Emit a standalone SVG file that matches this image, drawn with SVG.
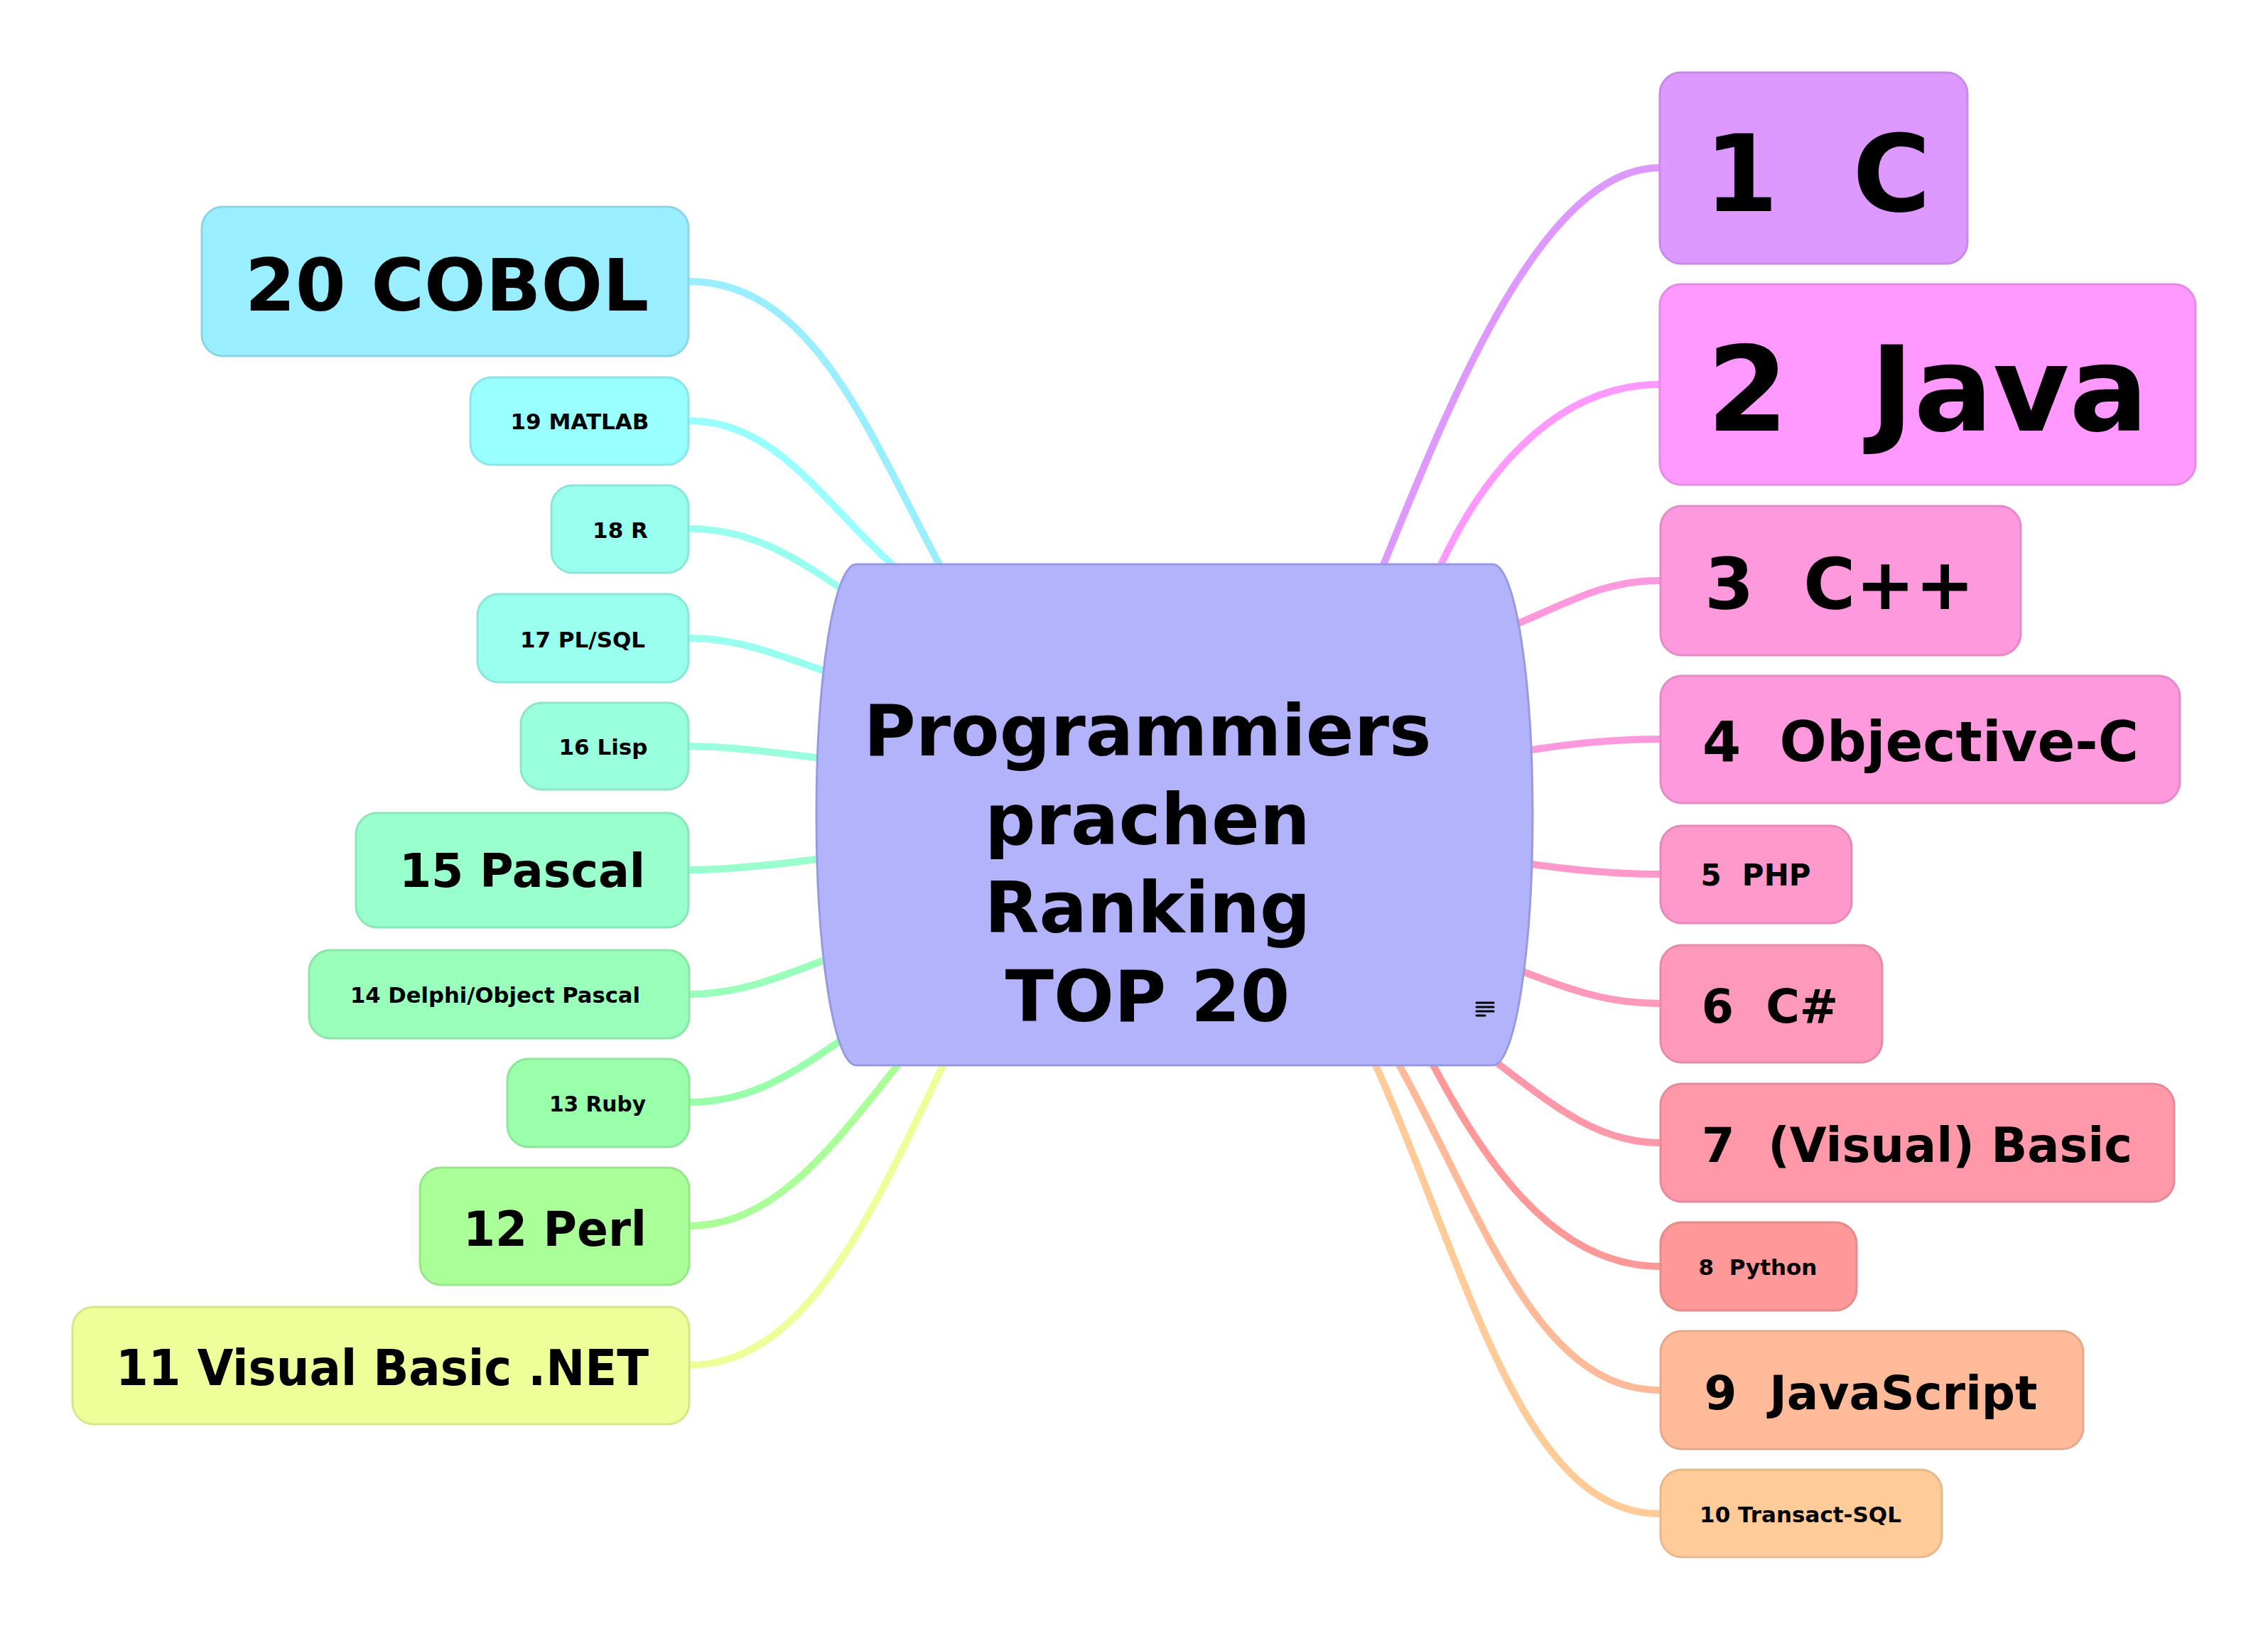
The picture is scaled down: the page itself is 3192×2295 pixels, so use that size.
<svg xmlns="http://www.w3.org/2000/svg" width="3192" height="2295" viewBox="0 0 3192 2295">
<style>
.con{fill:none;stroke-width:10;stroke-linecap:butt}
.box{stroke-width:3}
.v{font-family:"DejaVu Sans",Verdana,sans-serif;font-weight:bold;fill:#000;text-anchor:middle}
.t{font-family:"DejaVu Sans Condensed","DejaVu Sans",sans-serif;font-stretch:condensed;font-weight:bold;fill:#000;text-anchor:middle}
</style>
<rect width="3192" height="2295" fill="#ffffff"/>
<g id="connectors">
<path class="con" stroke="#99eeff" d="M969,396 C1149,396 1226,620 1336,820"/>
<path class="con" stroke="#99ffff" d="M969,592 C1099,592 1162,717 1277,813"/>
<path class="con" stroke="#99ffee" d="M969,744 C1059,744 1117,782 1208,845"/>
<path class="con" stroke="#99ffee" d="M969,898 C1040,898 1091,920 1185,953"/>
<path class="con" stroke="#99ffdd" d="M969,1050 C1030,1050 1100,1060 1180,1070"/>
<path class="con" stroke="#99ffcc" d="M969,1224 C1030,1224 1100,1216 1180,1205"/>
<path class="con" stroke="#99ffbb" d="M969,1399 C1040,1399 1093,1377 1186,1341"/>
<path class="con" stroke="#99ffaa" d="M969,1551 C1060,1551 1117,1510 1208,1447"/>
<path class="con" stroke="#aaff99" d="M969,1725 C1099,1725 1181,1599 1282,1476"/>
<path class="con" stroke="#eeff99" d="M969,1921 C1139,1921 1232,1697 1340,1472"/>
<path class="con" stroke="#dd99ff" d="M2336,236 C2166,236 2034,582 1936,822"/>
<path class="con" stroke="#ff99ff" d="M2336,541 C2186,541 2078,674 2016,822"/>
<path class="con" stroke="#ff99dd" d="M2336,817 C2250,817 2203,852 2110,888"/>
<path class="con" stroke="#ff99dd" d="M2336,1040 C2270,1040 2210,1046 2125,1060"/>
<path class="con" stroke="#ff99cc" d="M2336,1230 C2270,1230 2210,1224 2125,1212"/>
<path class="con" stroke="#ff99bb" d="M2336,1412 C2260,1412 2210,1393 2117,1357"/>
<path class="con" stroke="#ff99aa" d="M2336,1608 C2236,1608 2164,1536 2083,1478"/>
<path class="con" stroke="#ff9999" d="M2336,1782 C2186,1782 2086,1633 2003,1472"/>
<path class="con" stroke="#ffbb99" d="M2336,1956 C2156,1956 2080,1690 1955,1473"/>
<path class="con" stroke="#ffcc99" d="M2336,2130 C2136,2130 2063,1772 1924,1472"/>
</g>
<g id="center">
<path d="M1205,794 H2101 A56,352.5 0 0 1 2101,1499 H1205 A56,352.5 0 0 1 1205,794 Z" fill="#b3b3fc" stroke="#9999e0" stroke-width="3"/>
<text class="v" font-size="100" x="1615" y="1063">Programmiers</text>
<text class="v" font-size="100" x="1615" y="1188">prachen</text>
<text class="v" font-size="100" x="1615" y="1312">Ranking</text>
<text class="v" font-size="100" x="1615" y="1437">TOP 20</text>
<g stroke="#000" stroke-width="3" stroke-linecap="round">
<line x1="2078" y1="1411" x2="2102" y2="1411"/>
<line x1="2078" y1="1417" x2="2102" y2="1417"/>
<line x1="2078" y1="1423" x2="2102" y2="1423"/>
<line x1="2078" y1="1429" x2="2090" y2="1429"/>
</g>
</g>
<g id="n20"><rect class="box" x="284" y="291" width="685" height="210" rx="30" fill="#99eeff" stroke="#8ad6e6"/><text class="v" font-size="102" x="629" y="437">20 COBOL</text></g>
<g id="n19"><rect class="box" x="662" y="531" width="307" height="123" rx="30" fill="#99ffff" stroke="#8ae6e6"/><text class="v" font-size="31" x="816" y="604">19 MATLAB</text></g>
<g id="n18"><rect class="box" x="776" y="683" width="193" height="123" rx="30" fill="#99ffee" stroke="#8ae6d6"/><text class="v" font-size="31" x="873" y="757">18 R</text></g>
<g id="n17"><rect class="box" x="672" y="836" width="297" height="124" rx="30" fill="#99ffee" stroke="#8ae6d6"/><text class="v" font-size="31" x="820" y="911">17 PL/SQL</text></g>
<g id="n16"><rect class="box" x="733" y="989" width="236" height="122" rx="30" fill="#99ffdd" stroke="#8ae6c7"/><text class="v" font-size="31" x="849" y="1062">16 Lisp</text></g>
<g id="n15"><rect class="box" x="501" y="1144" width="468" height="161" rx="30" fill="#99ffcc" stroke="#8ae6b8"/><text class="v" font-size="65" x="735" y="1248">15 Pascal</text></g>
<g id="n14"><rect class="box" x="435" y="1337" width="535" height="124" rx="30" fill="#99ffbb" stroke="#8ae6a8"/><text class="t" font-size="31" x="697" y="1411" textLength="408" lengthAdjust="spacingAndGlyphs">14 Delphi/Object Pascal</text></g>
<g id="n13"><rect class="box" x="714" y="1490" width="256" height="124" rx="30" fill="#99ffaa" stroke="#8ae699"/><text class="t" font-size="30" x="841" y="1564" textLength="136" lengthAdjust="spacingAndGlyphs">13 Ruby</text></g>
<g id="n12"><rect class="box" x="591" y="1643" width="379" height="165" rx="30" fill="#aaff99" stroke="#99e68a"/><text class="t" font-size="68" x="781" y="1753" textLength="258" lengthAdjust="spacingAndGlyphs">12 Perl</text></g>
<g id="n11"><rect class="box" x="102" y="1839" width="868" height="165" rx="30" fill="#eeff99" stroke="#d6e68a"/><text class="t" font-size="70" x="538" y="1949" textLength="750" lengthAdjust="spacingAndGlyphs">11 Visual Basic .NET</text></g>
<g id="n1"><rect class="box" x="2336" y="102" width="433" height="269" rx="30" fill="#dd99ff" stroke="#c78ae6"/><text class="v" font-size="150" x="2558" y="297" xml:space="preserve">1  C</text></g>
<g id="n2"><rect class="box" x="2336" y="400" width="754" height="282" rx="30" fill="#ff99ff" stroke="#e68ae6"/><text class="v" font-size="165" x="2713" y="606" xml:space="preserve">2  Java</text></g>
<g id="n3"><rect class="box" x="2337" y="712" width="507" height="210" rx="30" fill="#ff99dd" stroke="#e68ac7"/><text class="v" font-size="100" x="2589" y="857" xml:space="preserve">3  C++</text></g>
<g id="n4"><rect class="box" x="2337" y="951" width="731" height="179" rx="30" fill="#ff99dd" stroke="#e68ac7"/><text class="v" font-size="78" x="2703" y="1071" xml:space="preserve">4  Objective-C</text></g>
<g id="n5"><rect class="box" x="2337" y="1162" width="269" height="137" rx="30" fill="#ff99cc" stroke="#e68ab8"/><text class="v" font-size="42" x="2471" y="1246" xml:space="preserve">5  PHP</text></g>
<g id="n6"><rect class="box" x="2337" y="1330" width="312" height="165" rx="30" fill="#ff99bb" stroke="#e68aa8"/><text class="v" font-size="65" x="2491" y="1439" xml:space="preserve">6  C#</text></g>
<g id="n7"><rect class="box" x="2337" y="1525" width="723" height="166" rx="30" fill="#ff99aa" stroke="#e68a99"/><text class="v" font-size="67" x="2698" y="1635" xml:space="preserve">7  (Visual) Basic</text></g>
<g id="n8"><rect class="box" x="2337" y="1720" width="276" height="124" rx="30" fill="#ff9999" stroke="#e68a8a"/><text class="v" font-size="31" x="2474" y="1794" xml:space="preserve">8  Python</text></g>
<g id="n9"><rect class="box" x="2337" y="1873" width="595" height="166" rx="30" fill="#ffbb99" stroke="#e6a88a"/><text class="v" font-size="66" x="2633" y="1983" xml:space="preserve">9  JavaScript</text></g>
<g id="n10"><rect class="box" x="2337" y="2068" width="396" height="123" rx="30" fill="#ffcc99" stroke="#e6b88a"/><text class="v" font-size="31" x="2534" y="2142">10 Transact-SQL</text></g>
</svg>
